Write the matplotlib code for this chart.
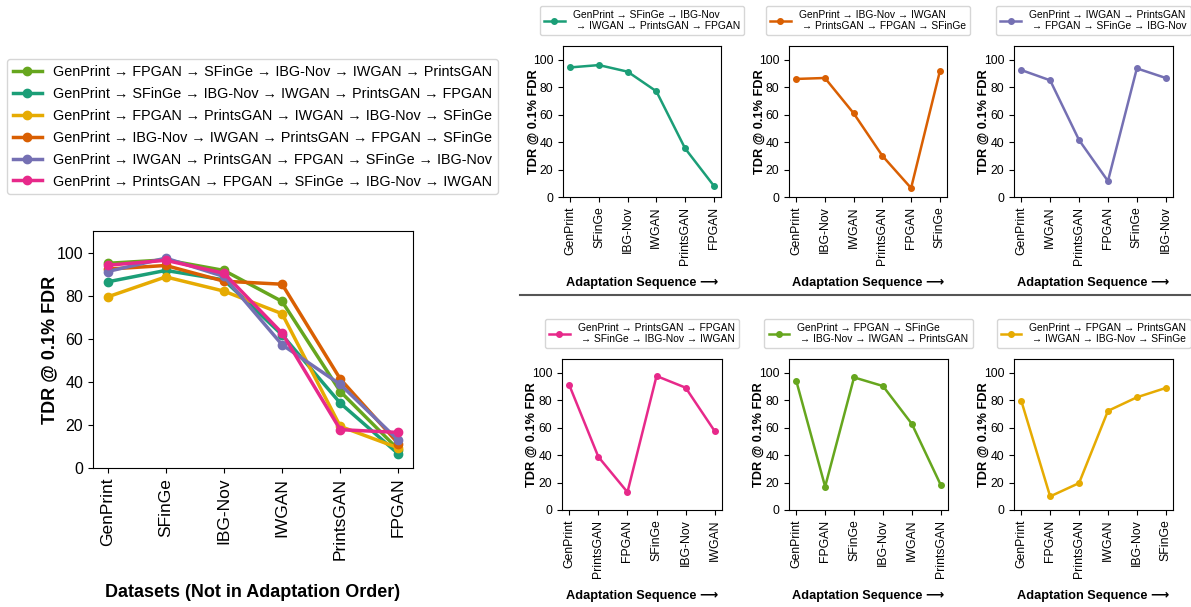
import matplotlib
matplotlib.use("Agg")
import matplotlib.pyplot as plt

plt.rcParams['font.family'] = ['Liberation Sans', 'DejaVu Sans']

# dataset order on the big chart
datasets = ["GenPrint", "SFinGe", "IBG-Nov", "IWGAN", "PrintsGAN", "FPGAN"]

# big chart series (values in dataset order)
seq_labels = [
    "GenPrint → FPGAN → SFinGe → IBG-Nov → IWGAN → PrintsGAN",
    "GenPrint → SFinGe → IBG-Nov → IWGAN → PrintsGAN → FPGAN",
    "GenPrint → FPGAN → PrintsGAN → IWGAN → IBG-Nov → SFinGe",
    "GenPrint → IBG-Nov → IWGAN → PrintsGAN → FPGAN → SFinGe",
    "GenPrint → IWGAN → PrintsGAN → FPGAN → SFinGe → IBG-Nov",
    "GenPrint → PrintsGAN → FPGAN → SFinGe → IBG-Nov → IWGAN",
]
colors = ["#66a61e", "#1b9e77", "#e6ab02", "#d95f02", "#7570b3", "#e7298a"]
big_green = [95.0, 96.6, 91.7, 77.3, 35.5, 8.5]
big_teal = [86.4, 91.7, 87.3, 61.8, 30.1, 6.5]
big_yellow = [79.4, 88.7, 82.1, 71.6, 19.3, 9.3]
big_orange = [92.3, 94.0, 86.7, 85.3, 41.3, 11.3]
big_purple = [91.2, 97.4, 88.9, 57.2, 38.8, 12.8]
big_pink = [94.1, 96.4, 90.4, 62.6, 17.8, 16.5]
big_values = [big_green, big_teal, big_yellow, big_orange, big_purple, big_pink]

# small panels, each in its own adaptation order
p1_order = ["GenPrint", "SFinGe", "IBG-Nov", "IWGAN", "PrintsGAN", "FPGAN"]
p1_vals = [94.4, 96.1, 91.3, 77.0, 35.4, 8.2]
p2_order = ["GenPrint", "IBG-Nov", "IWGAN", "PrintsGAN", "FPGAN", "SFinGe"]
p2_vals = [86.0, 86.7, 61.0, 30.0, 6.5, 91.5]
p3_order = ["GenPrint", "IWGAN", "PrintsGAN", "FPGAN", "SFinGe", "IBG-Nov"]
p3_vals = [92.5, 85.0, 41.5, 11.6, 93.7, 86.7]
p4_order = ["GenPrint", "PrintsGAN", "FPGAN", "SFinGe", "IBG-Nov", "IWGAN"]
p4_vals = [91.0, 38.7, 13.0, 97.6, 89.1, 57.4]
p5_order = ["GenPrint", "FPGAN", "SFinGe", "IBG-Nov", "IWGAN", "PrintsGAN"]
p5_vals = [94.2, 17.0, 96.6, 90.3, 62.7, 18.2]
p6_order = ["GenPrint", "FPGAN", "PrintsGAN", "IWGAN", "IBG-Nov", "SFinGe"]
p6_vals = [79.7, 9.9, 19.6, 72.2, 82.1, 88.9]

W, H = 1191, 607
fig = plt.figure(figsize=(W / 100, H / 100), dpi=100)


def px_axes(left, top, right, bottom):
    return fig.add_axes([left / W, 1 - bottom / H, (right - left) / W, (bottom - top) / H])


# ---- big chart ----
ax = px_axes(93, 231, 413, 468)
handles = []
for vals, c, lab in zip(big_values, colors, seq_labels):
    h, = ax.plot(datasets, vals, color=c, lw=2.5, marker="o", ms=6, label=lab)
    handles.append(h)
ax.set_ylim(0, 110)
ax.set_yticks([0, 20, 40, 60, 80, 100])
ax.tick_params(axis="y", labelsize=11.5)
ax.tick_params(axis="x", labelsize=12.5, rotation=90)
ax.set_ylabel("TDR @ 0.1% FDR", fontsize=13, fontweight="bold")
ax.yaxis.set_label_coords(-0.11, 0.5)
ax.set_xlabel("Datasets (Not in Adaptation Order)", fontsize=13, fontweight="bold")
ax.xaxis.set_label_coords(0.5, -0.49)

fig.legend(handles=handles, loc="upper left", bbox_to_anchor=(7 / W, 1 - 59 / H),
           fontsize=10.4, frameon=True, borderaxespad=0, handlelength=2.0,
           labelspacing=0.55, edgecolor="#cccccc")

# ---- small panels ----
panels = [
    (p1_order, p1_vals, "#1b9e77", "GenPrint → SFinGe → IBG-Nov\n → IWGAN → PrintsGAN → FPGAN", (563, 46, 721, 197)),
    (p2_order, p2_vals, "#d95f02", "GenPrint → IBG-Nov → IWGAN\n → PrintsGAN → FPGAN → SFinGe", (789, 46, 947, 197)),
    (p3_order, p3_vals, "#7570b3", "GenPrint → IWGAN → PrintsGAN\n → FPGAN → SFinGe → IBG-Nov", (1014, 46, 1173, 197)),
    (p4_order, p4_vals, "#e7298a", "GenPrint → PrintsGAN → FPGAN\n → SFinGe → IBG-Nov → IWGAN", (562, 359, 722, 510)),
    (p5_order, p5_vals, "#66a61e", "GenPrint → FPGAN → SFinGe\n → IBG-Nov → IWGAN → PrintsGAN", (789, 359, 948, 510)),
    (p6_order, p6_vals, "#e6ab02", "GenPrint → FPGAN → PrintsGAN\n → IWGAN → IBG-Nov → SFinGe", (1014, 359, 1173, 510)),
]
for order, vals, c, lab, box in panels:
    a = px_axes(*box)
    a.plot(order, vals, color=c, lw=1.8, marker="o", ms=4, label=lab)
    a.set_ylim(0, 110)
    a.set_yticks([0, 20, 40, 60, 80, 100])
    a.tick_params(axis="both", labelsize=8.8)
    a.tick_params(axis="x", rotation=90)
    a.set_ylabel("TDR @ 0.1% FDR", fontsize=9.2, fontweight="bold")
    a.yaxis.set_label_coords(-0.15, 0.5)
    a.set_xlabel("Adaptation Sequence ⟶", fontsize=9.2, fontweight="bold")
    a.xaxis.set_label_coords(0.5, -0.53)
    a.legend(loc="lower center", bbox_to_anchor=(0.5, 1.07), fontsize=7.4, borderaxespad=0,
             handlelength=2.0, labelspacing=0.3, edgecolor="#cccccc")

# separator line between rows
fig.add_artist(plt.Line2D([520 / W, 1.0], [1 - 295 / H, 1 - 295 / H], color="#555555", lw=1.5))

fig.savefig("out.png", dpi=100)
